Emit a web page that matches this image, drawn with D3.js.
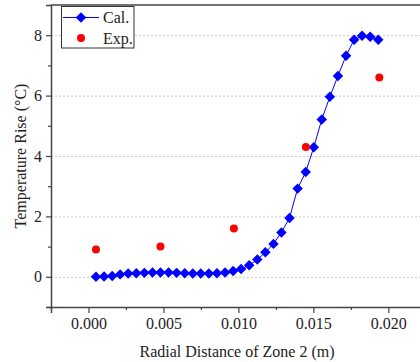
<!DOCTYPE html>
<html>
<head>
<meta charset="utf-8">
<script src="https://cdn.jsdelivr.net/npm/d3@7"></script>
<style>
  body { margin: 0; background: #fff; }
  svg { display: block; font-family: "Liberation Serif", "Times New Roman", serif; }
</style>
</head>
<body>
<svg></svg>
<script>
var width = 420;
var height = 362;

// calculated curve
var calX = [0.00050, 0.00104, 0.00158, 0.00211, 0.00265, 0.00319, 0.00373, 0.00427, 0.00480,
            0.00534, 0.00588, 0.00642, 0.00696, 0.00749, 0.00803, 0.00857, 0.00911, 0.00965,
            0.01018, 0.01072, 0.01126, 0.01180, 0.01234, 0.01287, 0.01341, 0.01395, 0.01449,
            0.01503, 0.01556, 0.01610, 0.01664, 0.01718, 0.01772, 0.01825, 0.01879, 0.01933];
var calY = [0.00, 0.01, 0.03, 0.08, 0.11, 0.12, 0.13, 0.14, 0.14,
            0.14, 0.13, 0.12, 0.11, 0.11, 0.11, 0.12, 0.14, 0.19,
            0.26, 0.38, 0.57, 0.81, 1.09, 1.47, 1.95, 2.92, 3.47,
            4.29, 5.21, 5.96, 6.65, 7.32, 7.85, 7.98, 7.95, 7.85];

// experiment
var expX = [0.0005, 0.0048, 0.0097, 0.0145, 0.0194];
var expY = [0.9, 1.0, 1.6, 4.3, 6.6];

var xTicks = [0, 0.005, 0.010, 0.015, 0.020];
var xMinor = [-0.0025, 0.0025, 0.0075, 0.0125, 0.0175, 0.0225];
var yTicks = [0, 2, 4, 6, 8];
var yMinor = [-1, 1, 3, 5, 7];

var calData = calX.map((x, i) => ({x: x, y: calY[i]}));
var expData = expX.map((x, i) => ({x: x, y: expY[i]}));

var margin = {left: 51, top: 5, bottom: 307};

var x = d3.scaleLinear().domain([-0.0025, 0.0225]).range([margin.left, 425.8]);
var y = d3.scaleLinear().domain([-1, 9]).range([margin.bottom, margin.top]);

var svg = d3.select("svg")
            .attr("width", width)
            .attr("height", height);

// grid
svg.append("g")
  .selectAll("line")
  .data(yTicks)
  .enter()
  .append("line")
    .attr("x1", margin.left)
    .attr("x2", width)
    .attr("y1", d => y(d) + 0.5)
    .attr("y2", d => y(d) + 0.5)
    .attr("stroke", "#c8c8c8")
    .attr("stroke-width", 1)
    .attr("stroke-dasharray", "2,2");

// top border
svg.append("line")
    .attr("x1", margin.left)
    .attr("x2", width)
    .attr("y1", y(9))
    .attr("y2", y(9))
    .attr("stroke", "#444")
    .attr("stroke-width", 1.5);

// x axis
svg.append("g")
    .attr("transform", "translate(0," + margin.bottom + ")")
    .call(d3.axisBottom(x).tickValues(xTicks).tickFormat(d3.format(".3f")).tickSize(6).tickPadding(5));

svg.append("g")
    .attr("transform", "translate(0," + margin.bottom + ")")
    .call(d3.axisBottom(x).tickValues(xMinor).tickFormat("").tickSize(3))
    .call(g => g.select(".domain").remove());

// y axis
svg.append("g")
    .attr("transform", "translate(" + margin.left + ",0)")
    .call(d3.axisLeft(y).tickValues(yTicks).tickSize(5).tickPadding(4));

svg.append("g")
    .attr("transform", "translate(" + margin.left + ",0)")
    .call(d3.axisLeft(y).tickValues(yMinor).tickFormat("").tickSize(3))
    .call(g => g.select(".domain").remove());

svg.selectAll(".domain").attr("stroke", "#444").attr("stroke-width", 1.5);
svg.selectAll(".tick line").attr("stroke", "#444").attr("stroke-width", 1.2);
svg.selectAll(".tick text")
    .attr("fill", "#222")
    .style("font-family", "Liberation Serif, serif")
    .style("font-size", "16px");

// axis titles
svg.append("text")
    .attr("x", 237)
    .attr("y", 357)
    .attr("text-anchor", "middle")
    .style("font-size", "16px")
    .attr("fill", "#222")
    .text("Radial Distance of Zone 2 (m)");

svg.append("text")
    .attr("transform", "translate(26," + 156 + ") rotate(-90)")
    .attr("text-anchor", "middle")
    .style("font-size", "16px")
    .attr("fill", "#222")
    .text("Temperature Rise (°C)");

// data
var diamond = d3.symbol().type(d3.symbolDiamond2).size(70);

var line = d3.line().x(d => x(d.x)).y(d => y(d.y));

svg.append("path")
    .datum(calData)
    .attr("d", line)
    .attr("fill", "none")
    .attr("stroke", "#0000ff")
    .attr("stroke-width", 1);

svg.append("g")
  .selectAll("path")
  .data(calData)
  .enter()
  .append("path")
    .attr("d", diamond)
    .attr("transform", d => "translate(" + x(d.x) + "," + y(d.y) + ")")
    .attr("fill", "#0000ff");

svg.append("g")
  .selectAll("circle")
  .data(expData)
  .enter()
  .append("circle")
    .attr("cx", d => x(d.x))
    .attr("cy", d => y(d.y))
    .attr("r", 4)
    .attr("fill", "#ff0000");

// legend
var legend = svg.append("g");

legend.append("rect")
    .attr("x", 61.5)
    .attr("y", 6.5)
    .attr("width", 72.5)
    .attr("height", 41.5)
    .attr("fill", "#fff")
    .attr("stroke", "#333")
    .attr("stroke-width", 1);

legend.append("line")
    .attr("x1", 63).attr("x2", 99)
    .attr("y1", 17.5).attr("y2", 17.5)
    .attr("stroke", "#0000ff").attr("stroke-width", 1);

legend.append("path")
    .attr("d", diamond)
    .attr("transform", "translate(81,17.5)")
    .attr("fill", "#0000ff");

legend.append("circle")
    .attr("cx", 81).attr("cy", 38).attr("r", 4)
    .attr("fill", "#ff0000");

legend.append("text")
    .attr("x", 103).attr("y", 22.5)
    .style("font-size", "16px").attr("fill", "#222")
    .text("Cal.");

legend.append("text")
    .attr("x", 103).attr("y", 43.5)
    .style("font-size", "16px").attr("fill", "#222")
    .text("Exp.");
</script>
</body>
</html>
